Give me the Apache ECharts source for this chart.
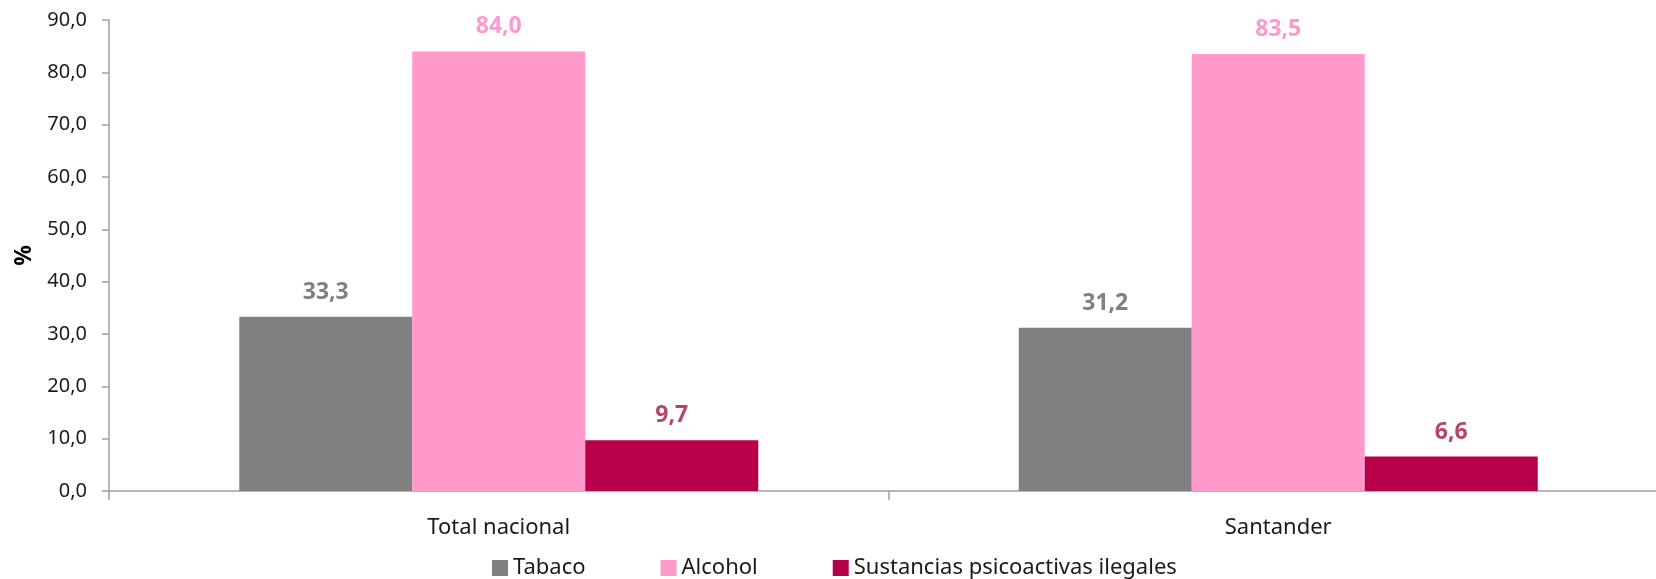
<!DOCTYPE html>
<html>
<head>
<meta charset="utf-8">
<script src="https://cdn.jsdelivr.net/npm/echarts@6/dist/echarts.min.js"></script>
<style>
  html, body { margin: 0; padding: 0; background: #fff; overflow: hidden; }
  /* the plot area runs past the right edge of the picture, so the canvas is a bit wider */
  #chart { width: 1668px; height: 579px; }
</style>
</head>
<body>
<div id="chart"></div>
<script>
const categories = ["Total nacional", "Santander"];
const seriesNames = ["Tabaco", "Alcohol", "Sustancias psicoactivas ilegales"];
const tabaco = [33.3, 31.2];
const alcohol = [84.0, 83.5];
const ilegales = [9.7, 6.6];

const barColors = ["#808080", "#ff99cc", "#b70049"];
const labelColors = ["#808080", "#ff99cc", "#b8436a"];
const FONT = "'Noto Sans', 'Open Sans', sans-serif";

function fmt(v) {
  return Number(v).toFixed(1).replace(".", ",");
}

function makeSeries(name, values, idx) {
  return {
    name,
    type: "bar",
    data: values,
    barWidth: 173,
    barGap: "0%",
    itemStyle: { color: barColors[idx] },
    label: {
      show: true,
      position: "top",
      distance: 13,
      color: labelColors[idx],
      fontFamily: FONT,
      fontWeight: "bold",
      fontSize: 23,
      formatter: (p) => fmt(p.value)
    }
  };
}

const chart = echarts.init(document.getElementById("chart"));
chart.setOption({
  animation: false,
  backgroundColor: "#fff",
  textStyle: { fontFamily: FONT },
  grid: { left: 109, right: 0, top: 20, height: 471, containLabel: false },
  legend: {
    top: 552,
    left: 487,
    itemWidth: 16,
    itemHeight: 16,
    itemGap: 75,
    icon: "rect",
    textStyle: { fontFamily: FONT, fontSize: 22, color: "#1a1a1a" },
    data: seriesNames
  },
  xAxis: {
    type: "category",
    data: categories,
    axisLine: { lineStyle: { color: "#a0a0a0", width: 1.5 } },
    axisTick: { show: true, length: 9, lineStyle: { color: "#a0a0a0", width: 1.5 } },
    axisLabel: { color: "#1a1a1a", fontSize: 22, fontFamily: FONT, margin: 26 }
  },
  yAxis: {
    type: "value",
    min: 0,
    max: 90,
    interval: 10,
    name: "%",
    nameLocation: "middle",
    nameGap: 72,
    nameRotate: 90,
    nameTextStyle: { fontFamily: FONT, fontWeight: "bold", fontSize: 23, color: "#000" },
    axisLine: { show: true, lineStyle: { color: "#a0a0a0", width: 1.5 } },
    axisTick: { show: true, length: 7, lineStyle: { color: "#a0a0a0", width: 1.5 } },
    splitLine: { show: false },
    axisLabel: {
      color: "#1a1a1a",
      fontSize: 20,
      fontFamily: FONT,
      margin: 22,
      formatter: (v) => fmt(v)
    }
  },
  series: [
    makeSeries(seriesNames[0], tabaco, 0),
    makeSeries(seriesNames[1], alcohol, 1),
    makeSeries(seriesNames[2], ilegales, 2)
  ]
});
</script>
</body>
</html>
